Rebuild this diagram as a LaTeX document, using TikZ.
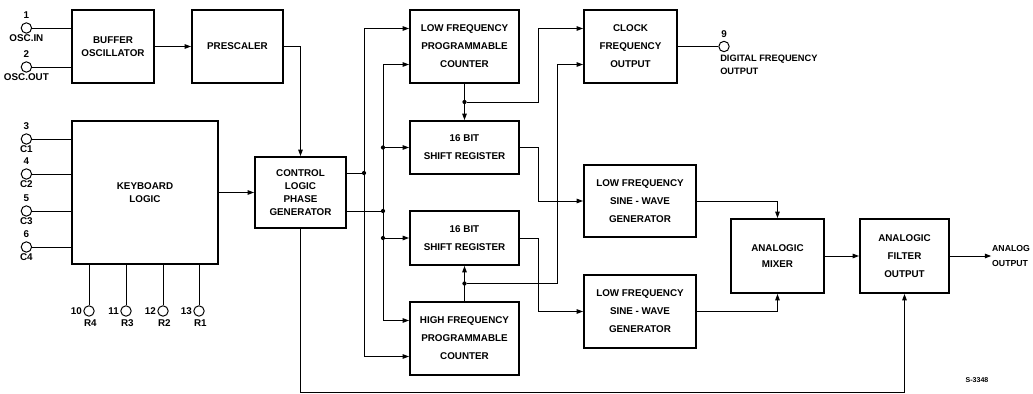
\documentclass[tikz,border=0pt]{standalone}
\usepackage{fontspec}
\setmainfont{Liberation Sans}
\usetikzlibrary{arrows.meta, positioning, calc}

\begin{document}
\begin{tikzpicture}[
  font=\fontsize{7}{12.8}\selectfont\bfseries,
  blocco/.style={draw=black, line width=1.4pt, align=center, inner sep=2pt},
  stretto/.style={blocco, font=\fontsize{7}{9.4}\selectfont\bfseries},
  piedino/.style={draw=black, circle, line width=0.7pt, minimum size=0.26cm, inner sep=0pt},
  etich/.style={inner sep=0.8pt, font=\fontsize{7}{8}\selectfont\bfseries},
  filo/.style={draw=black, line width=0.7pt},
  freccia/.style={filo, -{Triangle[length=4.5pt,width=3.2pt]}},
  giunto/.style={circle, fill=black, inner sep=0pt, minimum size=3pt}
]
\useasboundingbox (0,0) rectangle (25.825,-9.85);

%--------------------------------------------------------------
% Oscillatore, prescaler, tastiera, logica di controllo
%--------------------------------------------------------------
\node[stretto, minimum width=2.05cm, minimum height=1.825cm] (buffer) at (2.825,-1.1625)
  {BUFFER\\ OSCILLATOR};
\node[blocco, minimum width=2.275cm, minimum height=1.825cm] (prescaler) at (5.9375,-1.1625)
  {PRESCALER};
\node[stretto, minimum width=3.65cm, minimum height=3.575cm] (keyboard) at (3.625,-4.8125)
  {KEYBOARD\\ LOGIC};
\node[stretto, minimum width=2.275cm, minimum height=1.775cm] (control) at (7.5125,-4.8125)
  {CONTROL\\ LOGIC\\ PHASE\\ GENERATOR};

%--------------------------------------------------------------
% Contatori e registri
%--------------------------------------------------------------
\node[blocco, minimum width=2.725cm, minimum height=1.825cm] (lfc) at (11.6125,-1.1625)
  {LOW FREQUENCY\\ PROGRAMMABLE\\ COUNTER};
\node[blocco, minimum width=2.725cm, minimum height=1.325cm] (sr1) at (11.6125,-3.6875)
  {16 BIT\\ SHIFT REGISTER};
\node[blocco, minimum width=2.725cm, minimum height=1.35cm] (sr2) at (11.6125,-5.95)
  {16 BIT\\ SHIFT REGISTER};
\node[blocco, minimum width=2.725cm, minimum height=1.825cm] (hfc) at (11.6125,-8.4625)
  {HIGH FREQUENCY\\ PROGRAMMABLE\\ COUNTER};

%--------------------------------------------------------------
% Uscite
%--------------------------------------------------------------
\node[blocco, minimum width=2.325cm, minimum height=1.825cm] (clock) at (15.7625,-1.1625)
  {CLOCK\\ FREQUENCY\\ OUTPUT};
\node[blocco, minimum width=2.8cm, minimum height=1.8cm] (sine1) at (16.0,-5.025)
  {LOW FREQUENCY\\ SINE - WAVE\\ GENERATOR};
\node[blocco, minimum width=2.8cm, minimum height=1.825cm] (sine2) at (16.0,-7.7875)
  {LOW FREQUENCY\\ SINE - WAVE\\ GENERATOR};
\node[blocco, font=\fontsize{7}{11.4}\selectfont\bfseries,
      minimum width=2.325cm, minimum height=1.85cm] (mixer) at (19.4375,-6.4)
  {ANALOGIC\\ MIXER};
\node[blocco, minimum width=2.225cm, minimum height=1.85cm] (filter) at (22.6125,-6.4)
  {ANALOGIC\\ FILTER\\ OUTPUT};

%--------------------------------------------------------------
% Piedini
%--------------------------------------------------------------
\foreach \n/\y/\nome/\dest in {%
  1/-0.7/{OSC.IN}/buffer,
  2/-1.675/{OSC.OUT}/buffer,
  3/-3.475/{C1}/keyboard,
  4/-4.35/{C2}/keyboard,
  5/-5.275/{C3}/keyboard,
  6/-6.175/{C4}/keyboard}{
  \node[piedino, label={[etich, yshift=1.5pt]above:\n}, label={[etich]below:\nome}]
    (p\n) at (0.66,\y) {};
  \draw[filo] (p\n.east) -- (p\n.east -| \dest.west);
}

\foreach \n/\x/\nome in {10/2.225/R4, 11/3.15/R3, 12/4.075/R2, 13/4.975/R1}{
  \node[piedino, label={[etich]left:\n}, label={[etich, xshift=1pt, yshift=-1pt]below:\nome}]
    (p\n) at (\x,-7.775) {};
  \draw[filo] (p\n.north) -- (p\n.north |- keyboard.south);
}

\node[piedino, label={[etich, yshift=1pt]above:9}] (p9) at (18.1,-1.1625) {};
\node[etich, anchor=north west, align=left, inner sep=0pt,
      font=\fontsize{6.6}{9.2}\selectfont\bfseries] (digout) at ([yshift=-3pt]p9.south west)
  {DIGITAL FREQUENCY\\ OUTPUT};

\node[anchor=west, align=left, inner sep=0.5pt,
      font=\fontsize{6.2}{10}\selectfont\bfseries] (anout) at (24.78,-6.4)
  {ANALOG\\ OUTPUT};

\node[font=\fontsize{5}{6}\selectfont\bfseries] (codice) at (24.425,-9.5) {S-3348};

%--------------------------------------------------------------
% Percorso di ingresso
%--------------------------------------------------------------
\draw[freccia] (buffer.east) -- (prescaler.west);
\draw[freccia] (prescaler.east) -| (control.north);
\draw[freccia] (keyboard.east) -- (control.west);

%--------------------------------------------------------------
% Bus dalla logica di controllo
%--------------------------------------------------------------
\node[giunto] (gA) at (9.1,-4.325) {};
\node[giunto] (gB) at (9.575,-5.275) {};
\node[giunto] (gS1) at (gB |- sr1) {};
\node[giunto] (gS2) at (gB |- sr2) {};

\draw[filo] (control.east |- gA) -- (gA);
\draw[filo] (control.east |- gB) -- (gB);
\draw[freccia] (gA) |- ([yshift=0.45cm]lfc.west);
\draw[freccia] (gA) |- ([yshift=-0.45cm]hfc.west);
\draw[freccia] (gB) |- ([yshift=-0.45cm]lfc.west);
\draw[freccia] (gB) |- ([yshift=0.45cm]hfc.west);
\draw[freccia] (gS1) -- (sr1.west);
\draw[freccia] (gS2) -- (sr2.west);

%--------------------------------------------------------------
% Contatori -> registri e clock
%--------------------------------------------------------------
\coordinate (colA) at (13.45,0);
\coordinate (colB) at (13.925,0);
\coordinate (clkA) at ([yshift=0.45cm]clock.west);
\coordinate (clkB) at ([yshift=-0.45cm]clock.west);

\draw[freccia] (lfc.south) -- (sr1.north);
\node[giunto] (gL) at ($(lfc.south)!0.5!(sr1.north)$) {};
\draw[freccia] (gL) -| (colA |- clkA) -- (clkA);

\draw[freccia] (hfc.north) -- (sr2.south);
\node[giunto] (gH) at ($(hfc.north)!0.5!(sr2.south)$) {};
\draw[freccia] (gH) -| (colB |- clkB) -- (clkB);

\draw[filo] (clock.east) -- (p9.west);

%--------------------------------------------------------------
% Registri -> generatori -> mixer -> filtro
%--------------------------------------------------------------
\draw[freccia] (sr1.east) -| (colA |- sine1.west) -- (sine1.west);
\draw[freccia] (sr2.east) -| (colA |- sine2.west) -- (sine2.west);
\draw[freccia] (sine1.east) -| (mixer.north);
\draw[freccia] (sine2.east) -| (mixer.south);
\draw[freccia] (mixer.east) -- (filter.west);
\draw[freccia] (filter.east) -- (anout.west);

\coordinate (fondo) at (0,-9.8);
\draw[freccia] (control.south) -- (control.south |- fondo) -| (filter.south);

\end{tikzpicture}
\end{document}
